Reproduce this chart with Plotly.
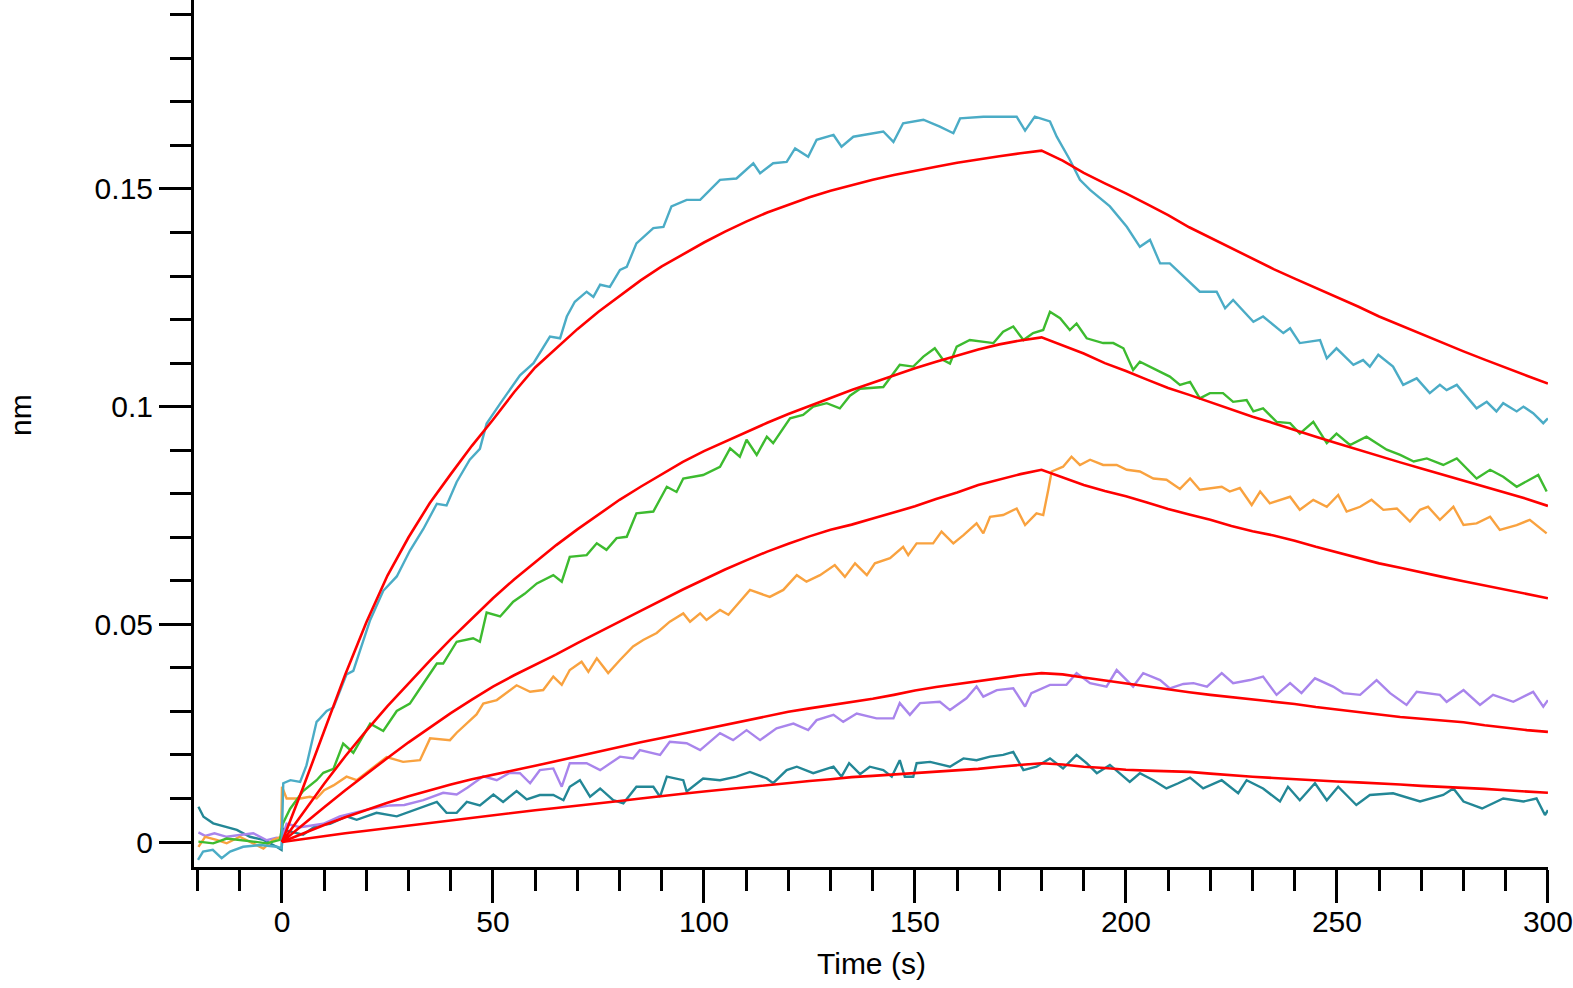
import plotly.graph_objects as go

# ---------------- measured sensorgram traces (time s, response nm) ----------------
t_cyan = [-19.9, -18.7, -16.4, -14.3, -12.3, -9.2, -5.2, -1.2, -0.1, 0.3, 2.0, 4.3, 5.8, 8.2, 9.0, 10.6, 12.2,
          15.3, 16.9, 20.9, 24.0, 27.2, 30.3, 33.5, 36.7, 39.0, 41.4, 44.5, 46.9, 48.5, 51.7, 56.4, 59.6, 61.1,
          63.5, 65.9, 67.5, 69.4, 72.2, 73.8, 75.4, 77.7, 80.1, 81.7, 84.0, 88.0, 90.4, 92.3, 95.9, 99.1, 101.4,
          103.8, 107.7, 111.7, 113.3, 116.4, 119.6, 121.6, 124.7, 126.7, 130.7, 132.6, 135.4, 142.5, 144.9,
          147.2, 152.0, 155.9, 159.1, 160.7, 166.2, 174.1, 176.1, 178.4, 182.0, 183.6, 186.7, 189.1, 191.5,
          196.2, 200.2, 203.3, 205.7, 208.1, 210.4, 213.6, 217.5, 221.5, 223.5, 225.4, 230.2, 232.5, 237.3,
          238.9, 241.2, 246.0, 247.6, 249.9, 253.9, 256.2, 257.8, 259.8, 263.3, 265.7, 268.9, 272.0, 274.4,
          276.0, 278.4, 283.1, 285.5, 287.8, 289.4, 292.6, 294.2, 296.5, 298.9, 300.0]
v_cyan = [-0.0041, -0.0022, -0.0018, -0.0037, -0.0022, -0.0011, -0.0007, -0.0011, -0.0014, 0.0135, 0.0142,
          0.0138, 0.0176, 0.0276, 0.0284, 0.0301, 0.0309, 0.0385, 0.0393, 0.0510, 0.0577, 0.0610, 0.0669,
          0.0719, 0.0777, 0.0773, 0.0827, 0.0878, 0.0903, 0.0961, 0.1007, 0.1072, 0.1100, 0.1123, 0.1161,
          0.1157, 0.1207, 0.1241, 0.1264, 0.1252, 0.1280, 0.1275, 0.1314, 0.1321, 0.1375, 0.1410, 0.1413,
          0.1460, 0.1475, 0.1475, 0.1498, 0.1521, 0.1524, 0.1559, 0.1536, 0.1559, 0.1562, 0.1593, 0.1574,
          0.1613, 0.1624, 0.1597, 0.1620, 0.1632, 0.1608, 0.1651, 0.1659, 0.1643, 0.1628, 0.1662, 0.1666,
          0.1666, 0.1634, 0.1666, 0.1655, 0.1620, 0.1567, 0.1521, 0.1498, 0.1460, 0.1413, 0.1367, 0.1383,
          0.1329, 0.1329, 0.1300, 0.1264, 0.1264, 0.1226, 0.1245, 0.1195, 0.1207, 0.1169, 0.1180, 0.1146,
          0.1153, 0.1111, 0.1134, 0.1096, 0.1107, 0.1092, 0.1119, 0.1092, 0.1050, 0.1065, 0.1031, 0.1050,
          0.1038, 0.1050, 0.0996, 0.1011, 0.0989, 0.1008, 0.0989, 0.1000, 0.0985, 0.0962, 0.0973]

t_green = [-19.8, -16.3, -13.1, -10.0, -6.8, -3.6, -0.5, 0.2, 1.9, 5.0, 8.2, 9.8, 12.2, 14.5, 16.9, 20.9, 24.0,
           27.2, 30.3, 33.5, 36.7, 38.2, 41.4, 45.3, 46.9, 48.5, 51.7, 54.8, 57.5, 60.4, 64.3, 66.3, 68.2, 72.2,
           74.6, 76.9, 79.3, 81.7, 84.0, 88.0, 91.2, 93.5, 95.1, 99.8, 103.8, 106.2, 108.5, 110.1, 112.5, 114.9,
           116.4, 120.4, 123.5, 125.9, 129.1, 132.2, 134.6, 137.0, 142.5, 146.4, 149.6, 152.0, 154.7, 156.7,
           158.3, 159.9, 163.0, 168.6, 170.9, 173.3, 175.7, 178.0, 180.4, 182.0, 184.4, 186.7, 188.3, 190.7,
           194.6, 197.0, 199.4, 201.7, 203.3, 207.3, 210.4, 212.8, 215.2, 217.5, 219.9, 223.0, 225.4, 228.6,
           230.2, 232.5, 235.7, 238.9, 241.2, 244.4, 247.6, 249.9, 253.1, 257.0, 261.8, 265.0, 268.2, 271.3,
           275.2, 278.4, 283.1, 286.3, 289.4, 292.6, 295.7, 297.7, 299.7]
v_green = [0.0001, -0.0003, 0.0008, 0.0005, 0.0001, -0.0003, 0.0005, 0.0042, 0.0076, 0.0117, 0.0142, 0.0159,
           0.0168, 0.0226, 0.0205, 0.0272, 0.0255, 0.0301, 0.0318, 0.0364, 0.0410, 0.0410, 0.0460, 0.0468,
           0.0460, 0.0527, 0.0518, 0.0552, 0.0570, 0.0594, 0.0613, 0.0598, 0.0655, 0.0659, 0.0686, 0.0671,
           0.0698, 0.0701, 0.0755, 0.0759, 0.0816, 0.0804, 0.0835, 0.0843, 0.0862, 0.0904, 0.0885, 0.0924,
           0.0889, 0.0931, 0.0916, 0.0973, 0.0981, 0.1000, 0.1008, 0.0996, 0.1025, 0.1041, 0.1045, 0.1096,
           0.1092, 0.1115, 0.1134, 0.1107, 0.1099, 0.1138, 0.1153, 0.1146, 0.1172, 0.1184, 0.1153, 0.1169,
           0.1176, 0.1218, 0.1203, 0.1176, 0.1191, 0.1157, 0.1146, 0.1146, 0.1134, 0.1084, 0.1103, 0.1084,
           0.1069, 0.1050, 0.1057, 0.1019, 0.1031, 0.1031, 0.1011, 0.1015, 0.0989, 0.0996, 0.0965, 0.0962,
           0.0938, 0.0965, 0.0916, 0.0938, 0.0912, 0.0931, 0.0901, 0.0889, 0.0874, 0.0881, 0.0866, 0.0881,
           0.0835, 0.0855, 0.0839, 0.0816, 0.0832, 0.0843, 0.0805]

t_orange = [-19.8, -18.2, -15.5, -13.1, -10.0, -6.8, -4.4, -2.1, -0.2, 0.0, 1.1, 4.3, 6.6, 8.2, 10.0, 12.2, 15.3,
            17.7, 21.6, 24.8, 28.7, 32.7, 35.1, 39.8, 41.4, 46.1, 47.7, 50.9, 55.6, 58.8, 61.9, 64.3, 66.3, 68.2,
            71.0, 72.6, 74.6, 77.3, 80.1, 83.2, 85.6, 88.8, 91.9, 95.1, 96.7, 99.1, 100.6, 103.8, 105.8, 108.5,
            110.9, 115.6, 118.8, 122.0, 124.3, 127.5, 131.0, 133.4, 135.8, 138.6, 140.5, 144.1, 147.2, 148.4,
            150.4, 154.3, 156.3, 159.1, 161.5, 164.6, 166.2, 167.8, 170.9, 174.1, 176.1, 178.8, 180.4, 181.6,
            182.4, 185.1, 187.1, 189.1, 191.5, 194.6, 197.8, 200.2, 203.3, 206.5, 209.6, 212.8, 215.2, 217.5,
            222.7, 224.6, 227.0, 229.8, 231.8, 234.1, 238.9, 241.2, 244.4, 247.6, 250.3, 252.3, 255.5, 258.2,
            261.0, 264.2, 267.3, 269.7, 271.6, 274.4, 277.6, 280.0, 283.1, 286.3, 288.6, 292.6, 295.7, 299.7]
v_orange = [-0.0011, 0.0012, 0.0005, -0.0003, 0.0012, -0.0003, -0.0015, 0.0005, 0.0012, 0.0127, 0.0100, 0.0100,
            0.0104, 0.0100, 0.0119, 0.0130, 0.0150, 0.0142, 0.0170, 0.0195, 0.0184, 0.0188, 0.0238, 0.0234,
            0.0251, 0.0293, 0.0318, 0.0326, 0.0360, 0.0345, 0.0349, 0.0380, 0.0361, 0.0395, 0.0414, 0.0391,
            0.0422, 0.0388, 0.0418, 0.0449, 0.0464, 0.0480, 0.0506, 0.0525, 0.0506, 0.0525, 0.0510, 0.0533,
            0.0522, 0.0552, 0.0579, 0.0563, 0.0579, 0.0613, 0.0598, 0.0613, 0.0636, 0.0609, 0.0640, 0.0613,
            0.0640, 0.0652, 0.0678, 0.0659, 0.0686, 0.0686, 0.0713, 0.0686, 0.0705, 0.0732, 0.0709, 0.0747,
            0.0751, 0.0766, 0.0728, 0.0755, 0.0751, 0.0809, 0.0851, 0.0862, 0.0885, 0.0866, 0.0878, 0.0866,
            0.0866, 0.0855, 0.0851, 0.0835, 0.0832, 0.0811, 0.0835, 0.0809, 0.0816, 0.0805, 0.0813, 0.0774,
            0.0805, 0.0778, 0.0793, 0.0763, 0.0786, 0.0770, 0.0797, 0.0759, 0.0770, 0.0786, 0.0763, 0.0766,
            0.0736, 0.0763, 0.0770, 0.0740, 0.0770, 0.0728, 0.0732, 0.0747, 0.0717, 0.0728, 0.0740, 0.0709]

t_purple = [-19.8, -18.2, -16.0, -13.1, -10.0, -6.8, -3.6, -1.3, 0.0, 1.1, 4.3, 9.8, 13.7, 16.9, 20.9, 25.6,
            29.0, 33.5, 38.2, 41.4, 44.0, 47.7, 50.9, 54.0, 56.4, 58.8, 61.1, 64.3, 66.3, 68.2, 72.2, 75.4, 80.1,
            83.2, 84.8, 89.6, 91.9, 95.9, 99.1, 103.8, 106.9, 110.1, 113.3, 117.2, 121.2, 124.7, 126.7, 130.7,
            133.0, 136.2, 140.9, 144.9, 146.4, 148.8, 151.2, 155.9, 158.3, 162.2, 164.6, 166.2, 169.4, 173.3,
            176.1, 177.6, 182.0, 185.9, 188.3, 191.5, 195.4, 197.8, 200.2, 201.7, 204.1, 208.1, 210.4, 213.6,
            216.0, 219.2, 222.7, 225.4, 229.4, 232.5, 235.7, 238.9, 241.6, 244.8, 249.1, 251.5, 255.5, 259.4,
            262.6, 266.5, 268.9, 274.4, 276.0, 280.0, 283.9, 287.0, 291.8, 296.5, 298.9, 300.0]
v_purple = [0.0022, 0.0014, 0.0020, 0.0012, 0.0016, 0.0020, 0.0004, 0.0010, 0.0008, 0.0042, 0.0034, 0.0042,
            0.0059, 0.0067, 0.0076, 0.0084, 0.0085, 0.0096, 0.0113, 0.0109, 0.0125, 0.0151, 0.0142, 0.0159,
            0.0158, 0.0135, 0.0165, 0.0169, 0.0127, 0.0181, 0.0181, 0.0165, 0.0196, 0.0192, 0.0211, 0.0200,
            0.0230, 0.0227, 0.0211, 0.0250, 0.0234, 0.0257, 0.0234, 0.0261, 0.0272, 0.0257, 0.0280, 0.0292,
            0.0276, 0.0295, 0.0284, 0.0284, 0.0319, 0.0292, 0.0319, 0.0322, 0.0303, 0.0330, 0.0357, 0.0334,
            0.0349, 0.0353, 0.0311, 0.0342, 0.0361, 0.0361, 0.0388, 0.0365, 0.0357, 0.0395, 0.0372, 0.0357,
            0.0388, 0.0372, 0.0353, 0.0363, 0.0365, 0.0357, 0.0388, 0.0365, 0.0372, 0.0380, 0.0338, 0.0365,
            0.0342, 0.0376, 0.0357, 0.0342, 0.0338, 0.0372, 0.0342, 0.0315, 0.0345, 0.0338, 0.0322, 0.0349,
            0.0315, 0.0338, 0.0322, 0.0345, 0.0311, 0.0326]

t_teal = [-19.8, -18.6, -16.3, -13.1, -10.7, -7.6, -4.4, -1.3, -0.1, 0.3, 1.1, 5.0, 8.2, 11.4, 15.3, 17.7, 22.4,
          27.2, 31.9, 36.7, 39.0, 41.4, 43.8, 46.9, 50.1, 52.4, 55.6, 58.0, 61.1, 64.3, 66.7, 68.2, 70.6, 73.0,
          75.4, 78.5, 80.9, 84.0, 88.0, 89.6, 91.2, 95.1, 95.9, 99.8, 103.8, 107.7, 110.9, 114.9, 116.4, 119.6,
          122.0, 125.9, 130.7, 132.6, 134.4, 137.0, 139.3, 142.5, 144.5, 146.4, 147.6, 149.6, 150.4, 153.6,
          158.3, 161.5, 164.6, 167.8, 170.9, 173.3, 175.7, 178.8, 182.0, 185.1, 188.3, 190.7, 193.1, 196.2,
          200.9, 203.3, 206.5, 209.6, 212.4, 215.2, 218.3, 222.7, 226.6, 228.6, 232.5, 236.5, 238.4, 241.2,
          244.8, 247.6, 250.3, 254.6, 257.8, 263.3, 269.7, 275.2, 277.6, 280.0, 284.4, 289.4, 294.2, 297.3,
          299.3, 300.0]
v_teal = [0.0081, 0.0058, 0.0043, 0.0035, 0.0028, 0.0012, 0.0005, -0.0011, -0.0018, 0.0030, 0.0026, 0.0017,
          0.0038, 0.0042, 0.0059, 0.0051, 0.0067, 0.0059, 0.0076, 0.0092, 0.0067, 0.0067, 0.0092, 0.0084,
          0.0109, 0.0092, 0.0117, 0.0098, 0.0108, 0.0108, 0.0096, 0.0127, 0.0142, 0.0104, 0.0123, 0.0096,
          0.0089, 0.0127, 0.0127, 0.0104, 0.0150, 0.0142, 0.0116, 0.0146, 0.0142, 0.0150, 0.0161, 0.0146,
          0.0135, 0.0165, 0.0173, 0.0158, 0.0173, 0.0150, 0.0181, 0.0156, 0.0173, 0.0165, 0.0150, 0.0188,
          0.0150, 0.0150, 0.0181, 0.0184, 0.0173, 0.0192, 0.0188, 0.0196, 0.0200, 0.0207, 0.0165, 0.0173,
          0.0192, 0.0169, 0.0200, 0.0181, 0.0158, 0.0177, 0.0138, 0.0158, 0.0142, 0.0123, 0.0135, 0.0148,
          0.0123, 0.0142, 0.0112, 0.0142, 0.0123, 0.0093, 0.0127, 0.0096, 0.0135, 0.0096, 0.0127, 0.0085,
          0.0108, 0.0112, 0.0093, 0.0108, 0.0123, 0.0093, 0.0077, 0.0100, 0.0093, 0.0100, 0.0062, 0.0073]

# ---------------- global fit curves (red) ----------------
t_fit = [0, 5, 10, 15, 20, 25, 30, 35, 40, 45, 50, 55, 60, 65, 70, 75, 80, 85, 90, 95, 100, 105, 110, 115, 120,
         125, 130, 135, 140, 145, 150, 155, 160, 165, 170, 175, 180, 185, 190, 195, 200, 205, 210, 215, 220,
         225, 230, 235, 240, 245, 250, 255, 260, 265, 270, 275, 280, 285, 290, 295, 300]
fit_1 = [0.0000, 0.0125, 0.0255, 0.0385, 0.0505, 0.0612, 0.0700, 0.0778, 0.0845, 0.0910, 0.0970, 0.1033,
         0.1090, 0.1135, 0.1178, 0.1218, 0.1255, 0.1290, 0.1322, 0.1350, 0.1377, 0.1402, 0.1425, 0.1446,
         0.1464, 0.1481, 0.1496, 0.1509, 0.1521, 0.1532, 0.1542, 0.1551, 0.1560, 0.1568, 0.1575, 0.1582,
         0.1588, 0.1565, 0.1537, 0.1513, 0.1490, 0.1465, 0.1440, 0.1412, 0.1388, 0.1364, 0.1340, 0.1316,
         0.1294, 0.1273, 0.1252, 0.1230, 0.1207, 0.1187, 0.1166, 0.1146, 0.1127, 0.1108, 0.1089, 0.1071, 0.1053]
fit_2 = [0.0000, 0.0068, 0.0134, 0.0197, 0.0256, 0.0312, 0.0365, 0.0416, 0.0466, 0.0514, 0.0560, 0.0603,
         0.0643, 0.0682, 0.0718, 0.0753, 0.0786, 0.0816, 0.0845, 0.0873, 0.0898, 0.0920, 0.0942, 0.0963,
         0.0983, 0.1002, 0.1020, 0.1038, 0.1055, 0.1071, 0.1088, 0.1103, 0.1117, 0.1131, 0.1143, 0.1152,
         0.1159, 0.1140, 0.1122, 0.1100, 0.1082, 0.1062, 0.1043, 0.1027, 0.1010, 0.0993, 0.0977, 0.0962,
         0.0946, 0.0931, 0.0916, 0.0901, 0.0886, 0.0872, 0.0858, 0.0844, 0.0830, 0.0816, 0.0803, 0.0788, 0.0772]
fit_3 = [0.0000, 0.0041, 0.0080, 0.0119, 0.0157, 0.0193, 0.0229, 0.0263, 0.0296, 0.0327, 0.0357, 0.0383,
         0.0407, 0.0431, 0.0457, 0.0481, 0.0506, 0.0531, 0.0556, 0.0580, 0.0603, 0.0626, 0.0647, 0.0667,
         0.0685, 0.0702, 0.0717, 0.0729, 0.0743, 0.0757, 0.0771, 0.0788, 0.0803, 0.0820, 0.0833, 0.0845,
         0.0855, 0.0838, 0.0820, 0.0806, 0.0794, 0.0780, 0.0765, 0.0752, 0.0740, 0.0726, 0.0714, 0.0704,
         0.0692, 0.0678, 0.0665, 0.0652, 0.0640, 0.0630, 0.0619, 0.0609, 0.0599, 0.0589, 0.0579, 0.0569, 0.0560]
fit_4 = [0.0000, 0.0020, 0.0039, 0.0057, 0.0074, 0.0090, 0.0105, 0.0119, 0.0132, 0.0144, 0.0155, 0.0165,
         0.0175, 0.0186, 0.0197, 0.0208, 0.0219, 0.0229, 0.0239, 0.0249, 0.0259, 0.0270, 0.0280, 0.0290,
         0.0299, 0.0307, 0.0314, 0.0321, 0.0329, 0.0338, 0.0348, 0.0356, 0.0363, 0.0370, 0.0377, 0.0383,
         0.0388, 0.0385, 0.0378, 0.0371, 0.0364, 0.0357, 0.0350, 0.0344, 0.0338, 0.0333, 0.0328, 0.0323,
         0.0317, 0.0310, 0.0304, 0.0298, 0.0292, 0.0287, 0.0283, 0.0279, 0.0275, 0.0268, 0.0262, 0.0257, 0.0253]
fit_5 = [0.0000, 0.0007, 0.0013, 0.0020, 0.0026, 0.0032, 0.0038, 0.0044, 0.0050, 0.0056, 0.0062, 0.0068,
         0.0073, 0.0078, 0.0083, 0.0088, 0.0094, 0.0100, 0.0106, 0.0111, 0.0116, 0.0121, 0.0126, 0.0131,
         0.0136, 0.0140, 0.0144, 0.0149, 0.0152, 0.0155, 0.0158, 0.0162, 0.0165, 0.0168, 0.0173, 0.0177,
         0.0181, 0.0178, 0.0173, 0.0170, 0.0166, 0.0164, 0.0163, 0.0161, 0.0157, 0.0153, 0.0150, 0.0147,
         0.0144, 0.0141, 0.0139, 0.0137, 0.0135, 0.0132, 0.0129, 0.0127, 0.0125, 0.0122, 0.0119, 0.0116, 0.0113]

x_ticks = [0, 50, 100, 150, 200, 250, 300]
y_ticks = [0, 0.05, 0.1, 0.15]
y_tick_labels = ["0", "0.05", "0.1", "0.15"]

FONT = "Liberation Sans, Arial, sans-serif"

fig = go.Figure()
data_series = [
    (t_teal, v_teal, "#238796"),
    (t_purple, v_purple, "#A985EC"),
    (t_orange, v_orange, "#F9A23F"),
    (t_green, v_green, "#3DBB2F"),
    (t_cyan, v_cyan, "#4BACC6"),
]
for tx, vy, col in data_series:
    fig.add_trace(go.Scatter(x=tx, y=vy, mode="lines", line=dict(color=col, width=2.4),
                             showlegend=False, hoverinfo="skip", cliponaxis=False))
for fv in [fit_1, fit_2, fit_3, fit_4, fit_5]:
    fig.add_trace(go.Scatter(x=t_fit, y=fv, mode="lines", line=dict(color="#FF0000", width=2.6),
                             showlegend=False, hoverinfo="skip", cliponaxis=False))

fig.update_layout(
    width=1573, height=988,
    margin=dict(l=194, r=25, t=0, b=121),
    paper_bgcolor="white", plot_bgcolor="white",
    font=dict(family=FONT, size=30, color="black"),
    xaxis=dict(range=[-20.85, 300.02], showgrid=False, zeroline=False, showline=True, linecolor="black",
               linewidth=3, ticks="outside", ticklen=33, tickwidth=3, tickcolor="black",
               tickvals=x_ticks, ticktext=[str(v) for v in x_ticks], ticklabelstandoff=-7,
               tickfont=dict(family=FONT, size=30, color="black"),
               minor=dict(dtick=10, tick0=0, ticks="outside", ticklen=21, tickwidth=3, tickcolor="black",
                          showgrid=False)),
    yaxis=dict(range=[-0.00574, 0.1934], showgrid=False, zeroline=False, showline=True, linecolor="black",
               linewidth=3, ticks="outside", ticklen=32, tickwidth=3, tickcolor="black",
               tickvals=y_ticks, ticktext=y_tick_labels,
               tickfont=dict(family=FONT, size=30, color="black"),
               minor=dict(dtick=0.01, tick0=0, ticks="outside", ticklen=21, tickwidth=3, tickcolor="black",
                          showgrid=False)),
    annotations=[
        dict(text="Time (s)", xref="paper", yref="paper", x=0.5, y=-0.111, xanchor="center", yanchor="middle",
             showarrow=False, font=dict(family=FONT, size=30, color="black")),
        dict(text="nm", xref="paper", yref="paper", x=-0.128, y=0.521, xanchor="center", yanchor="middle",
             textangle=-90, showarrow=False, font=dict(family=FONT, size=30, color="black")),
    ],
)

fig.write_html("out.html")
